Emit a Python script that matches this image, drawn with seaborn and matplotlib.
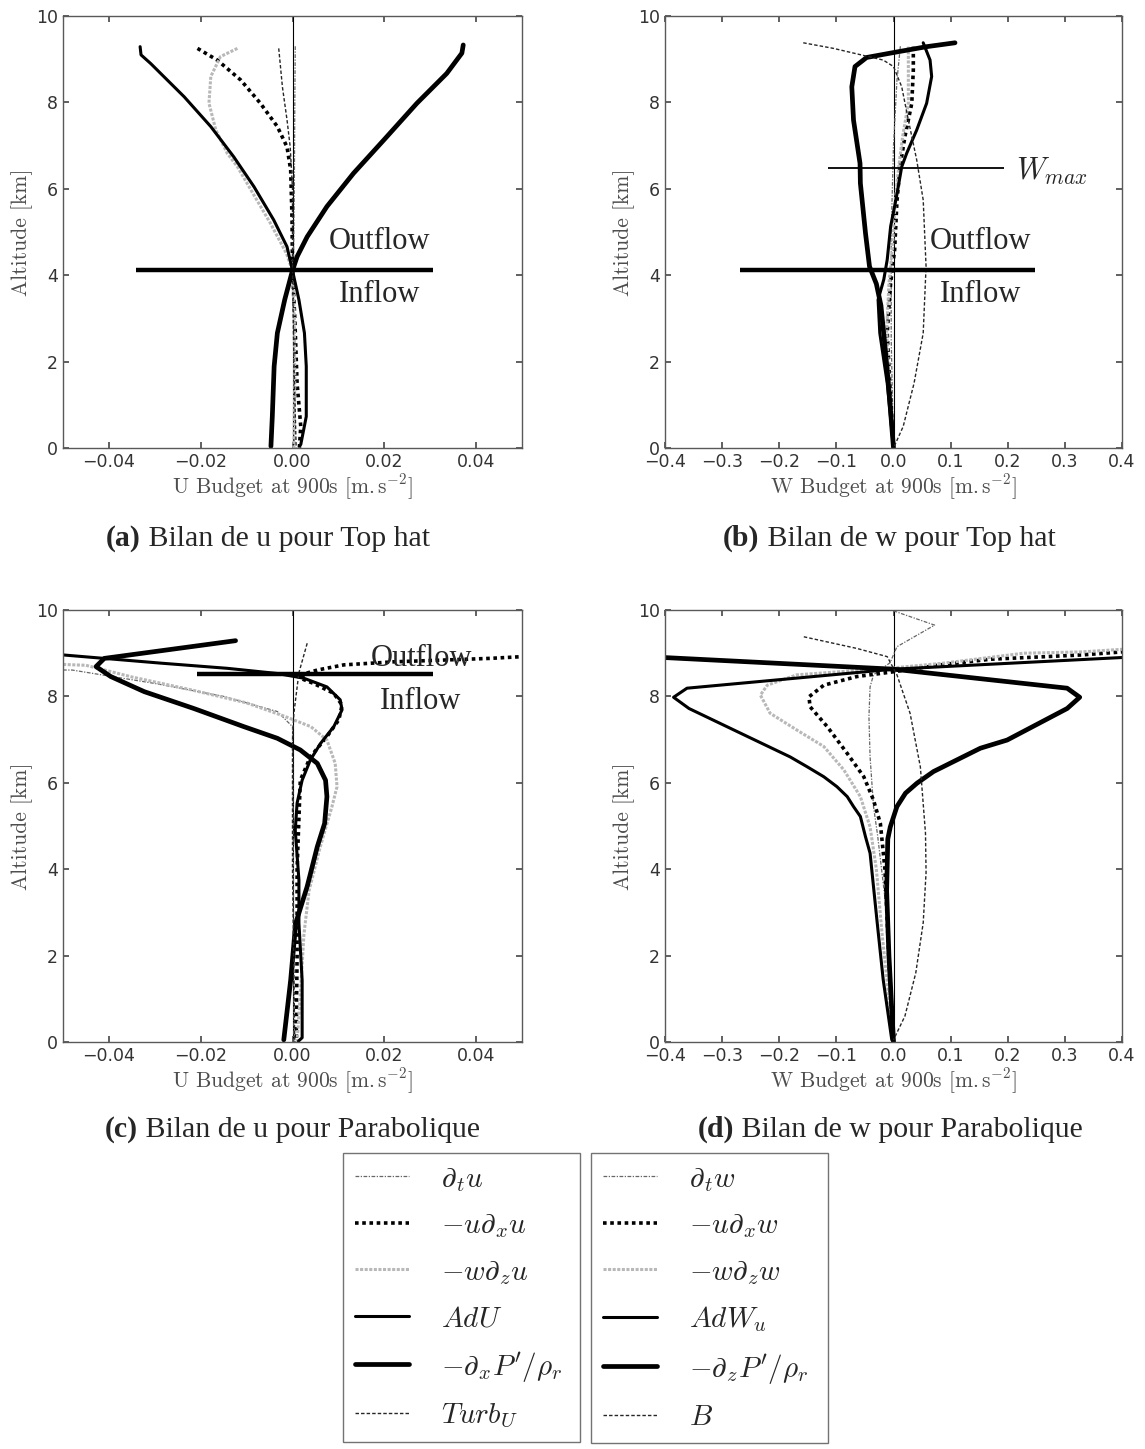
import matplotlib
matplotlib.use("Agg")
import matplotlib.pyplot as plt
from matplotlib.lines import Line2D
import seaborn as sns

# ---------------- data (x = budget term, z = altitude km) ----------------
# (a) u budget, top hat
A_Z_DT = [9.3, 8.0, 6.0, 4.1, 2.0, 0.0]
A_X_DT = [0.0006, 0.0005, 0.0004, 0.0002, 0.0003, 0.0004]
A_Z_UDX = [9.25, 8.98, 8.52, 7.98, 7.44, 6.97, 6.44, 5.3, 4.1, 3.0, 1.5, 0.5, 0.0]
A_X_UDX = [-0.0207, -0.0164, -0.0113, -0.007, -0.0033, -0.0012, -0.0004, -0.0001, 0.0, 0.0005, 0.001, 0.0018, 0.0015]
A_Z_WDZ = [9.25, 9.06, 8.6, 7.98, 7.36, 6.82, 6.51, 6.0, 5.2, 4.5, 4.1, 3.0, 1.5, 0.0]
A_X_WDZ = [-0.012, -0.0157, -0.0178, -0.0182, -0.0167, -0.0142, -0.012, -0.0092, -0.0048, -0.0013, 0.0, 0.0004, 0.0005, 0.0003]
A_Z_ADV = [9.29, 9.1, 8.9, 8.13, 7.44, 6.74, 6.05, 5.28, 4.66, 4.11, 3.43, 2.66, 1.89, 0.73, 0.08]
A_X_ADV = [-0.0332, -0.033, -0.0309, -0.0236, -0.0178, -0.0128, -0.0084, -0.0041, -0.0012, 0.0, 0.0014, 0.0026, 0.003, 0.003, 0.0018]
A_Z_PRES = [9.33, 9.14, 8.67, 7.98, 7.13, 6.36, 5.59, 4.89, 4.43, 4.11, 3.43, 2.66, 1.89, 0.73, 0.04]
A_X_PRES = [0.0372, 0.0369, 0.0336, 0.0271, 0.0199, 0.0133, 0.0075, 0.0032, 0.001, 0.0, -0.0017, -0.0033, -0.004, -0.0044, -0.0047]
A_Z_LAST = [9.25, 8.36, 7.6, 6.97, 6.0, 4.1, 2.0, 0.0]
A_X_LAST = [-0.003, -0.0022, -0.0012, -0.0005, 0.0, 0.0, 0.0003, 0.0008]

# (b) w budget, top hat
B_Z_DT = [9.3, 8.5, 7.0, 5.0, 2.5, 0.0]
B_X_DT = [0.012, 0.006, 0.0, -0.004, -0.004, 0.0]
B_Z_UDX = [9.29, 8.75, 7.98, 7.21, 6.51, 5.7, 4.59, 3.82, 2.66, 1.1, 0.0]
B_X_UDX = [0.0347, 0.0347, 0.032, 0.020, 0.0114, 0.006, 0.002, -0.005, -0.011, -0.005, 0.0]
B_Z_WDZ = [9.29, 7.98, 7.21, 6.5, 5.7, 4.6, 3.8, 2.7, 1.1, 0.0]
B_X_WDZ = [0.026, 0.026, 0.016, 0.009, 0.003, -0.002, -0.008, -0.012, -0.006, 0.0]
B_Z_ADV = [9.38, 8.98, 8.6, 7.98, 7.36, 6.82, 6.51, 5.8, 5.13, 4.36, 3.9, 3.43, 2.66, 1.5, 0.0]
B_X_ADV = [0.052, 0.064, 0.0668, 0.058, 0.0406, 0.023, 0.0144, 0.005, -0.005, -0.011, -0.017, -0.027, -0.024, -0.011, 0.0]
B_Z_PRES = [9.38, 9.29, 9.16, 9.04, 8.83, 8.36, 7.59, 6.59, 6.13, 4.97, 4.2, 3.8, 3.3, 2.5, 1.5, 0.5, 0.0]
B_X_PRES = [0.1077, 0.058, 0.0026, -0.047, -0.0674, -0.073, -0.070, -0.0586, -0.058, -0.049, -0.042, -0.03, -0.022, -0.016, -0.009, -0.003, 0.0]
B_Z_LAST = [9.38, 9.25, 9.07, 8.98, 8.83, 8.36, 7.59, 6.67, 5.74, 4.2, 2.66, 1.5, 0.5, 0.0]
B_X_LAST = [-0.158, -0.105, -0.047, -0.018, 0.0, 0.0144, 0.026, 0.0406, 0.052, 0.057, 0.052, 0.036, 0.017, 0.0]

# (c) u budget, parabolic
C_Z_DT = [8.62, 8.61, 8.3, 8.0, 7.65, 7.3, 4.0, 0.0]
C_X_DT = [-0.065, -0.048, -0.030, -0.015, -0.0033, 0.0, 0.0002, 0.0003]
C_Z_UDX = [8.93, 8.92, 8.88, 8.8, 8.73, 8.61, 8.53, 8.42, 8.3, 8.07, 7.8, 7.46, 7.07, 6.6, 6.06, 4.0, 2.0, 0.0]
C_X_UDX = [0.065, 0.05, 0.043, 0.022, 0.0112, 0.0054, 0.0028, 0.0017, 0.0046, 0.009, 0.0108, 0.0101, 0.0075, 0.0039, 0.0017, 0.001, 0.001, 0.0008]
C_Z_WDZ = [8.80, 8.72, 8.45, 8.15, 7.85, 7.55, 7.30, 6.99, 6.45, 5.91, 5.45, 4.5, 3.5, 2.5, 1.1, 0.0]
C_X_WDZ = [-0.065, -0.045, -0.035, -0.022, -0.010, -0.002, 0.004, 0.0075, 0.0093, 0.0097, 0.0086, 0.006, 0.0036, 0.0025, 0.0017, 0.001]
C_Z_ADV = [8.98, 8.96, 8.77, 8.65, 8.53, 8.42, 8.22, 7.92, 7.69, 7.3, 6.91, 6.53, 6.06, 5.53, 4.9, 3.75, 2.75, 1.43, 0.1, 0.02]
C_X_ADV = [-0.065, -0.05, -0.0287, -0.0142, -0.0033, 0.0025, 0.0075, 0.0104, 0.0108, 0.009, 0.0061, 0.0039, 0.0021, 0.001, 0.0006, 0.0014, 0.0014, 0.0021, 0.0021, 0.0013]
C_Z_PRES = [9.29, 8.88, 8.69, 8.46, 8.11, 7.72, 7.3, 7.03, 6.76, 6.45, 6.06, 5.68, 5.06, 4.52, 3.6, 2.75, 1.43, 0.05]
C_X_PRES = [-0.0124, -0.041, -0.0428, -0.0396, -0.0323, -0.0215, -0.0106, -0.0033, 0.0017, 0.0054, 0.0072, 0.0075, 0.007, 0.0054, 0.0032, 0.0007, -0.0004, -0.0019]
C_Z_LAST = [9.23, 8.55, 7.61, 7.0, 4.0, 0.0]
C_X_LAST = [0.0032, 0.0014, 0.0003, 0.0, 0.0, 0.0005]

# (d) w budget, parabolic
D_Z_DT = [9.98, 9.65, 9.15, 8.78, 8.5, 8.22, 7.53, 6.6, 5.45, 4.8, 3.0, 1.5, 0.0]
D_X_DT = [0.0, 0.072, 0.006, -0.006, -0.035, -0.041, -0.043, -0.041, -0.035, -0.028, -0.012, -0.004, 0.0]
D_Z_UDX = [9.08, 8.96, 8.86, 8.73, 8.57, 8.46, 8.26, 7.99, 7.76, 7.3, 6.68, 6.14, 5.6, 5.06, 4.0, 2.5, 1.0, 0.0]
D_X_UDX = [0.45, 0.33, 0.169, 0.082, 0.0, -0.064, -0.122, -0.148, -0.146, -0.116, -0.081, -0.052, -0.035, -0.023, -0.015, -0.01, -0.005, 0.0]
D_Z_WDZ = [9.14, 9.09, 9.03, 9.0, 8.77, 8.66, 8.5, 8.26, 8.03, 7.61, 7.22, 6.84, 6.3, 5.68, 4.98, 4.0, 2.5, 0.0]
D_X_WDZ = [0.45, 0.4, 0.33, 0.228, 0.088, 0.0, -0.169, -0.221, -0.233, -0.216, -0.169, -0.122, -0.087, -0.058, -0.041, -0.03, -0.02, 0.0]
D_Z_ADV = [8.93, 8.9, 8.63, 8.19, 7.98, 7.72, 7.15, 6.6, 6.37, 6.14, 5.91, 5.68, 5.45, 5.22, 4.75, 4.37, 2.82, 1.44, 0.05]
D_X_ADV = [0.45, 0.4, 0.0, -0.3615, -0.385, -0.358, -0.268, -0.181, -0.151, -0.122, -0.099, -0.081, -0.070, -0.058, -0.049, -0.041, -0.029, -0.018, -0.003]
D_Z_PRES = [8.93, 8.9, 8.63, 8.19, 7.98, 7.72, 6.99, 6.8, 6.53, 6.26, 5.99, 5.76, 5.45, 4.98, 4.7, 3.5, 2.0, 0.0]
D_X_PRES = [-0.45, -0.402, 0.0, 0.304, 0.326, 0.304, 0.199, 0.152, 0.111, 0.070, 0.041, 0.021, 0.006, -0.0056, -0.010, -0.012, -0.008, 0.0]
D_Z_LAST = [9.38, 9.11, 8.92, 8.5, 7.61, 6.37, 4.83, 3.92, 2.76, 1.6, 0.6, 0.05]
D_X_LAST = [-0.157, -0.064, -0.011, 0.006, 0.029, 0.047, 0.056, 0.057, 0.052, 0.039, 0.02, 0.0]

# axes ticks
U_XTICKS = [-0.04, -0.02, 0.00, 0.02, 0.04]
W_XTICKS = [-0.4, -0.3, -0.2, -0.1, 0.0, 0.1, 0.2, 0.3, 0.4]
Z_TICKS = [0, 2, 4, 6, 8, 10]

# inflow / outflow separators and W_max marker
A_SEP = (4.11, -0.034, 0.0306)
B_SEP = (4.11, -0.268, 0.2476)
C_SEP = (8.51, -0.0207, 0.0307)
B_WMAX = (6.49, -0.1145, 0.193)

LEG_U = [r'$\partial_t u$', r'$-u\partial_x u$', r'$-w\partial_z u$', r'$AdU$',
         r"$-\partial_x P'/\rho_r$", r'$Turb_U$']
LEG_W = [r'$\partial_t w$', r'$-u\partial_x w$', r'$-w\partial_z w$', r'$AdW_u$',
         r"$-\partial_z P'/\rho_r$", r'$B$']

CAPTIONS = [('(a)', ' Bilan de u pour Top hat'), ('(b)', ' Bilan de w pour Top hat'),
            ('(c)', ' Bilan de u pour Parabolique'), ('(d)', ' Bilan de w pour Parabolique')]

# --- line styles, one per budget term ---
STYLES = [
    dict(color='0.4', lw=0.9, ls=(0, (3, 1.2, 1, 1.2))),   # d/dt
    dict(color='black', lw=2.6, ls=(0, (1, 1))),           # -u dx
    dict(color='0.72', lw=2.2, ls=(0, (1, 0.5))),          # -w dz
    dict(color='black', lw=2.2, ls='-'),                   # advection
    dict(color='black', lw=3.4, ls='-'),                   # pressure
    dict(color='0.15', lw=1.0, ls=(0, (2.5, 1.5))),        # turb / buoyancy
]

SERIF = 'Liberation Serif'

sns.set_theme(style="ticks")
plt.rcParams.update({
    'font.family': ['DejaVu Sans'],
    'mathtext.fontset': 'cm',
    'xtick.direction': 'in', 'ytick.direction': 'in',
    'xtick.top': True, 'ytick.right': True,
    'xtick.major.size': 4, 'ytick.major.size': 4,
    'xtick.color': '0.3', 'ytick.color': '0.3',
    'xtick.labelcolor': '0.2', 'ytick.labelcolor': '0.2',
    'xtick.labelsize': 12.5, 'ytick.labelsize': 12.5,
    'axes.edgecolor': '0.35', 'axes.linewidth': 1.0,
})

W, H = 1145, 1449
fig = plt.figure(figsize=(W / 100, H / 100), dpi=100)


def px_axes(x0, y0, x1, y1):
    return fig.add_axes([x0 / W, 1 - y1 / H, (x1 - x0) / W, (y1 - y0) / H])


ax_a = px_axes(63, 16, 522, 448)
ax_b = px_axes(665, 16, 1122, 448)
ax_c = px_axes(63, 610, 522, 1042)
ax_d = px_axes(665, 610, 1122, 1042)

panels = [
    (ax_a, [(A_X_DT, A_Z_DT), (A_X_UDX, A_Z_UDX), (A_X_WDZ, A_Z_WDZ), (A_X_ADV, A_Z_ADV),
            (A_X_PRES, A_Z_PRES), (A_X_LAST, A_Z_LAST)], 'U'),
    (ax_b, [(B_X_DT, B_Z_DT), (B_X_UDX, B_Z_UDX), (B_X_WDZ, B_Z_WDZ), (B_X_ADV, B_Z_ADV),
            (B_X_PRES, B_Z_PRES), (B_X_LAST, B_Z_LAST)], 'W'),
    (ax_c, [(C_X_DT, C_Z_DT), (C_X_UDX, C_Z_UDX), (C_X_WDZ, C_Z_WDZ), (C_X_ADV, C_Z_ADV),
            (C_X_PRES, C_Z_PRES), (C_X_LAST, C_Z_LAST)], 'U'),
    (ax_d, [(D_X_DT, D_Z_DT), (D_X_UDX, D_Z_UDX), (D_X_WDZ, D_Z_WDZ), (D_X_ADV, D_Z_ADV),
            (D_X_PRES, D_Z_PRES), (D_X_LAST, D_Z_LAST)], 'W'),
]

for ax, curves, comp in panels:
    ax.axvline(0, color='black', lw=0.8, zorder=1)
    for (xs, zs), st in zip(curves, STYLES):
        sns.lineplot(x=xs, y=zs, sort=False, estimator=None, ax=ax,
                     color=st['color'], linewidth=st['lw'], linestyle=st['ls'])
    if comp == 'U':
        ax.set_xlim(-0.05, 0.05)
        ax.set_xticks(U_XTICKS)
    else:
        ax.set_xlim(-0.4, 0.4)
        ax.set_xticks(W_XTICKS)
    ax.set_ylim(0, 10)
    ax.set_yticks(Z_TICKS)
    ax.set_xlabel(comp + r' Budget at 900s [m.$\,$s$^{-2}$]', family='cmr10', size=15.5,
                  color='0.3', labelpad=1)
    ax.set_ylabel('Altitude [km]', family='cmr10', size=15.5, color='0.3', labelpad=2)
    for sp in ax.spines.values():
        sp.set_visible(True)

# separators and flow labels
for ax, (zs, x0, x1) in [(ax_a, A_SEP), (ax_b, B_SEP), (ax_c, C_SEP)]:
    ax.hlines(zs, x0, x1, color='black', lw=3.2, zorder=5)
ax_b.hlines(B_WMAX[0], B_WMAX[1], B_WMAX[2], color='black', lw=1.3, zorder=5)
ax_b.text(0.215, 6.4, r'$W_{max}$', size=22, ha='left', va='center')

for ax, xo, zo, zi in [(ax_a, 0.0189, 4.78, 3.55), (ax_b, 0.152, 4.78, 3.55), (ax_c, 0.028, 8.88, 7.88)]:
    ax.text(xo, zo, 'Outflow', family=SERIF, size=22, ha='center', va='center', zorder=6)
    ax.text(xo, zi, 'Inflow', family=SERIF, size=22, ha='center', va='center', zorder=6)

# captions: bold tag followed by regular text
cap_pos = [(106, 546), (723, 546), (105, 1137), (698, 1137)]
for (tag, rest), (cx, cy), ax in zip(CAPTIONS, cap_pos, [ax_a, ax_b, ax_c, ax_d]):
    t = fig.text(cx / W, 1 - cy / H, tag, family=SERIF, weight='bold', size=21.5, va='baseline')
    ax.annotate(rest, xy=(1, 0), xycoords=t, va='bottom', ha='left', family=SERIF, size=21.5,
                annotation_clip=False)

# legends
for labels, x0 in [(LEG_U, 343), (LEG_W, 591)]:
    handles = [Line2D([], [], color=st['color'], lw=st['lw'], ls=st['ls']) for st in STYLES]
    leg = fig.legend(handles, labels, loc='upper left',
                     bbox_to_anchor=(x0 / W, 1 - 1153 / H, 237 / W, 0.0), mode='expand',
                     fontsize=21, handlelength=1.85, handletextpad=1.1, labelspacing=0.6,
                     borderpad=0.4, borderaxespad=0, fancybox=False, framealpha=1,
                     edgecolor='0.45')
    leg.get_frame().set_linewidth(1.0)

fig.savefig('out.png', dpi=100)
